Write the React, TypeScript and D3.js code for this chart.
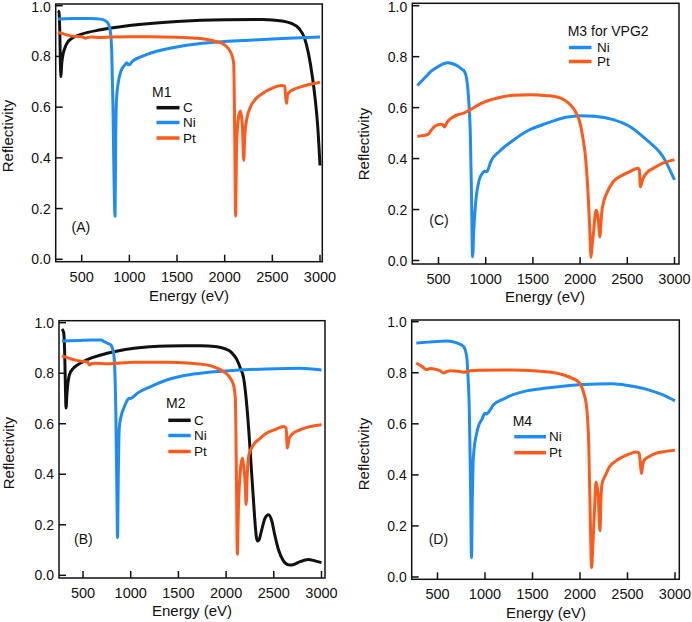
import * as d3 from "d3";

const BLACK = "#111111";
const BLUE = "#1e8cf5";
const ORANGE = "#ff5a1a";
const FONT = "'Liberation Sans', Arial, Helvetica, sans-serif";

const energyTicks = [500, 1000, 1500, 2000, 2500, 3000];
const reflTicks = [0, 0.2, 0.4, 0.6, 0.8, 1.0];

// (A) M1
const m1C: [number, number][] = [[250,0.98],[262,0.975],[270,0.9],[276,0.78],[282,0.72],[290,0.77],[300,0.8],[320,0.83],[350,0.855],[400,0.872],[500,0.888],[700,0.905],[1000,0.922],[1500,0.938],[2000,0.945],[2400,0.946],[2600,0.94],[2700,0.93],[2780,0.91],[2840,0.87],[2880,0.81],[2920,0.72],[2950,0.63],[2975,0.53],[3000,0.37]];
const m1Ni: [number, number][] = [[250,0.948],[400,0.95],[600,0.95],[700,0.947],[750,0.94],[780,0.928],[800,0.9],[815,0.82],[828,0.6],[840,0.3],[850,0.17],[856,0.45],[865,0.63],[885,0.7],[910,0.74],[950,0.765],[975,0.775],[990,0.767],[1005,0.768],[1030,0.78],[1100,0.795],[1200,0.81],[1400,0.83],[1600,0.844],[1800,0.853],[2000,0.859],[2300,0.865],[2600,0.871],[3000,0.877]];
const m1Pt: [number, number][] = [[250,0.895],[300,0.89],[400,0.88],[500,0.878],[540,0.872],[560,0.874],[600,0.877],[700,0.875],[800,0.877],[1000,0.878],[1200,0.878],[1500,0.876],[1700,0.872],[1800,0.868],[1900,0.86],[1980,0.85],[2040,0.83],[2080,0.8],[2095,0.77],[2105,0.5],[2115,0.17],[2125,0.45],[2145,0.56],[2165,0.585],[2185,0.53],[2200,0.39],[2210,0.48],[2230,0.55],[2270,0.6],[2320,0.63],[2400,0.655],[2500,0.675],[2600,0.685],[2630,0.683],[2640,0.64],[2650,0.615],[2660,0.65],[2700,0.665],[2800,0.68],[2900,0.69],[3000,0.698]];

// (B) M2
const m2C: [number, number][] = [[280,0.975],[298,0.96],[308,0.88],[316,0.74],[322,0.662],[332,0.72],[357,0.793],[400,0.82],[444,0.833],[550,0.855],[688,0.872],[850,0.887],[1036,0.899],[1200,0.905],[1384,0.908],[1732,0.909],[1905,0.905],[2000,0.895],[2045,0.886],[2080,0.872],[2114,0.853],[2150,0.82],[2184,0.78],[2210,0.7],[2236,0.583],[2271,0.386],[2290,0.28],[2305,0.2],[2318,0.15],[2330,0.136],[2345,0.14],[2370,0.175],[2410,0.228],[2445,0.24],[2480,0.214],[2510,0.16],[2550,0.1],[2601,0.057],[2650,0.042],[2688,0.041],[2730,0.046],[2775,0.054],[2862,0.063],[2932,0.057],[3000,0.05]];
const m2Ni: [number, number][] = [[280,0.928],[450,0.93],[600,0.932],[688,0.932],[723,0.925],[760,0.918],[792,0.912],[815,0.89],[827,0.859],[844,0.649],[856,0.3],[862,0.149],[870,0.4],[880,0.583],[900,0.63],[931,0.665],[960,0.69],[984,0.701],[1000,0.7],[1018,0.704],[1071,0.721],[1210,0.747],[1384,0.774],[1550,0.79],[1732,0.8],[2080,0.811],[2427,0.817],[2775,0.82],[3000,0.813]];
const m2Pt: [number, number][] = [[280,0.868],[350,0.86],[410,0.853],[514,0.846],[545,0.845],[566,0.833],[590,0.838],[618,0.839],[757,0.837],[1036,0.843],[1384,0.843],[1600,0.84],[1732,0.836],[1850,0.828],[1905,0.82],[1980,0.805],[2045,0.78],[2080,0.75],[2097,0.701],[2108,0.4],[2118,0.083],[2128,0.25],[2149,0.412],[2170,0.464],[2185,0.43],[2201,0.359],[2210,0.28],[2222,0.4],[2240,0.478],[2288,0.517],[2350,0.54],[2427,0.563],[2520,0.578],[2601,0.589],[2629,0.583],[2642,0.504],[2660,0.54],[2688,0.557],[2775,0.576],[2900,0.59],[3000,0.596]];

// (C) M3 for VPG2
const m3Ni: [number, number][] = [[276,0.687],[350,0.715],[423,0.743],[500,0.762],[598,0.776],[650,0.772],[703,0.763],[750,0.75],[773,0.743],[795,0.72],[808,0.684],[825,0.6],[837,0.5],[850,0.25],[861,0.015],[875,0.13],[896,0.237],[931,0.316],[970,0.345],[990,0.35],[1005,0.348],[1019,0.352],[1054,0.388],[1150,0.43],[1299,0.474],[1450,0.51],[1650,0.539],[1850,0.562],[2000,0.568],[2150,0.566],[2351,0.553],[2526,0.526],[2702,0.474],[2877,0.408],[3000,0.316]];
const m3Pt: [number, number][] = [[276,0.487],[330,0.49],[388,0.495],[420,0.51],[458,0.526],[520,0.535],[546,0.533],[563,0.524],[580,0.535],[598,0.546],[650,0.562],[703,0.572],[773,0.579],[850,0.595],[949,0.616],[1124,0.638],[1299,0.649],[1475,0.651],[1650,0.647],[1750,0.642],[1825,0.632],[1900,0.61],[1950,0.585],[2000,0.539],[2030,0.48],[2053,0.421],[2075,0.32],[2088,0.237],[2105,0.1],[2116,0.013],[2128,0.06],[2141,0.105],[2169,0.197],[2180,0.19],[2193,0.158],[2211,0.092],[2220,0.14],[2228,0.184],[2250,0.23],[2281,0.263],[2351,0.309],[2450,0.335],[2526,0.349],[2614,0.362],[2628,0.355],[2639,0.289],[2650,0.3],[2667,0.322],[2702,0.342],[2800,0.367],[2877,0.382],[3000,0.395]];

// (D) M4
const m4Ni: [number, number][] = [[277,0.917],[400,0.92],[598,0.924],[703,0.917],[772,0.904],[807,0.865],[822,0.78],[835,0.654],[848,0.35],[858,0.076],[866,0.3],[875,0.45],[884,0.497],[912,0.562],[940,0.6],[964,0.615],[999,0.641],[1015,0.638],[1034,0.644],[1087,0.674],[1200,0.698],[1296,0.714],[1450,0.73],[1645,0.74],[1994,0.753],[2344,0.757],[2518,0.749],[2693,0.736],[2867,0.714],[3000,0.69]];
const m4Pt: [number, number][] = [[277,0.838],[336,0.825],[388,0.812],[420,0.817],[458,0.815],[528,0.808],[563,0.799],[600,0.805],[633,0.808],[737,0.805],[772,0.802],[850,0.808],[947,0.81],[1296,0.811],[1645,0.804],[1820,0.792],[1920,0.778],[1994,0.76],[2040,0.72],[2064,0.681],[2080,0.62],[2092,0.523],[2110,0.2],[2122,0.037],[2135,0.12],[2152,0.26],[2169,0.372],[2182,0.35],[2193,0.313],[2205,0.2],[2211,0.181],[2220,0.3],[2232,0.365],[2270,0.4],[2309,0.431],[2380,0.455],[2448,0.47],[2520,0.482],[2588,0.49],[2623,0.486],[2636,0.44],[2647,0.405],[2660,0.44],[2675,0.457],[2720,0.47],[2797,0.484],[2900,0.492],[3000,0.497]];

type Series = { name: string; data: [number, number][]; color: string };
type Panel = {
  id: string;
  frame: [number, number, number, number]; // l t r b
  xr: [number, number]; // pixel of 500, 3000
  yr: [number, number]; // pixel of 0, 1
  series: Series[];
  title: string;
  legend: { tx: number; ty: number; x1: number; x2: number; ys: number[]; lx: number };
  tag: [number, number];
  yTitle: [number, number];
  xTitle: [number, number];
};

const panels: Panel[] = [
  {
    id: "(A)", frame: [55.7, 4, 322.3, 261.7], xr: [81.7, 320], yr: [259.3, 5.7],
    series: [{ name: "C", data: m1C, color: BLACK }, { name: "Ni", data: m1Ni, color: BLUE }, { name: "Pt", data: m1Pt, color: ORANGE }],
    title: "M1",
    legend: { tx: 152, ty: 96.7, x1: 156.5, x2: 179.5, ys: [107.7, 122.5, 138], lx: 183 },
    tag: [71.5, 232], yTitle: [13, 136], xTitle: [189, 301],
  },
  {
    id: "(C)", frame: [412.3, 3.3, 679, 264], xr: [438.5, 674.5], yr: [260.5, 5.7],
    series: [{ name: "Ni", data: m3Ni, color: BLUE }, { name: "Pt", data: m3Pt, color: ORANGE }],
    title: "M3 for VPG2",
    legend: { tx: 567.7, ty: 36, x1: 569, x2: 591.5, ys: [47.5, 61.5], lx: 597 },
    tag: [429.3, 225.3], yTitle: [369, 144], xTitle: [545, 301.5],
  },
  {
    id: "(B)", frame: [59, 320.7, 325, 578], xr: [83, 321.5], yr: [575.3, 322.7],
    series: [{ name: "C", data: m2C, color: BLACK }, { name: "Ni", data: m2Ni, color: BLUE }, { name: "Pt", data: m2Pt, color: ORANGE }],
    title: "M2",
    legend: { tx: 166, ty: 408.3, x1: 168.3, x2: 190.7, ys: [420.3, 435.5, 451.5], lx: 194 },
    tag: [74, 544], yTitle: [13.5, 453], xTitle: [192, 616],
  },
  {
    id: "(D)", frame: [411.7, 320, 679.3, 579.3], xr: [437.5, 675], yr: [577, 321.7],
    series: [{ name: "Ni", data: m4Ni, color: BLUE }, { name: "Pt", data: m4Pt, color: ORANGE }],
    title: "M4",
    legend: { tx: 512.7, ty: 426, x1: 514.3, x2: 546, ys: [436.7, 452.7], lx: 549 },
    tag: [428.7, 544], yTitle: [368.5, 454], xTitle: [546, 617.5],
  },
];

function PanelView({ p, idx }: { p: Panel; idx: number }) {
  const [l, t, r, b] = p.frame;
  const x = d3.scaleLinear().domain([500, 3000]).range(p.xr);
  const y = d3.scaleLinear().domain([0, 1]).range(p.yr);
  const line = d3.line<[number, number]>()
    .x(d => x(d[0]))
    .y(d => y(d[1]))
    .curve(d3.curveMonotoneX);
  const clipId = "clip" + idx;
  const tickLen = 7;
  return (
    <g>
      <defs>
        <clipPath id={clipId}>
          <rect x={l} y={t} width={r - l} height={b - t} />
        </clipPath>
      </defs>
      <g clipPath={`url(#${clipId})`}>
        {p.series.map(s => (
          <path key={s.name} d={line(s.data) || ""} fill="none" stroke={s.color}
            strokeWidth={3} strokeLinejoin="round" />
        ))}
      </g>
      <rect x={l} y={t} width={r - l} height={b - t} fill="none" stroke="#111" strokeWidth={1.5} />
      {energyTicks.map(v => (
        <g key={"x" + v}>
          <line x1={x(v)} x2={x(v)} y1={b} y2={b - tickLen} stroke="#111" strokeWidth={1.5} />
          <text x={x(v)} y={b + 20} textAnchor="middle" fontSize={14.5}>{v}</text>
        </g>
      ))}
      {reflTicks.map(v => (
        <g key={"y" + v}>
          <line x1={l} x2={l + tickLen} y1={y(v)} y2={y(v)} stroke="#111" strokeWidth={1.5} />
          <text x={l - 5} y={Math.max(y(v), 6.5)} dy="0.36em" textAnchor="end" fontSize={14}>{d3.format(".1f")(v)}</text>
        </g>
      ))}
      <text x={p.xTitle[0]} y={p.xTitle[1]} textAnchor="middle" fontSize={15}>Energy (eV)</text>
      <text transform={`translate(${p.yTitle[0]},${p.yTitle[1]}) rotate(-90)`} textAnchor="middle" fontSize={15}>Reflectivity</text>
      <text x={p.tag[0]} y={p.tag[1]} fontSize={14}>{p.id}</text>
      <text x={p.legend.tx} y={p.legend.ty} fontSize={14}>{p.title}</text>
      {p.series.map((s, i) => (
        <g key={"lg" + s.name}>
          <line x1={p.legend.x1} x2={p.legend.x2} y1={p.legend.ys[i]} y2={p.legend.ys[i]} stroke={s.color} strokeWidth={3.5} />
          <text x={p.legend.lx} y={p.legend.ys[i] + 4.5} fontSize={13.5}>{s.name}</text>
        </g>
      ))}
    </g>
  );
}

export default function App() {
  return (
    <>
      <style>{"body{margin:0}"}</style>
      <svg width={692} height={622} style={{ display: "block", background: "#fff" }}
        fontFamily={FONT} fill="#111">
        {panels.map((p, i) => <PanelView key={p.id} p={p} idx={i} />)}
      </svg>
    </>
  );
}
